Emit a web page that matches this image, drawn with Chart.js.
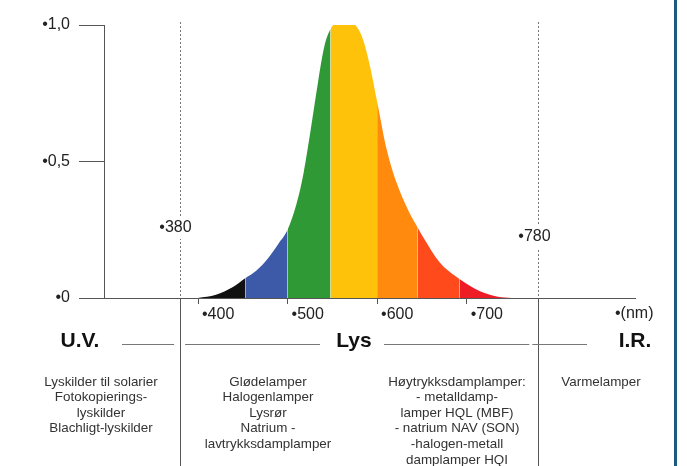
<!DOCTYPE html>
<html>
<head>
<meta charset="utf-8">
<script src="https://cdn.jsdelivr.net/npm/chart.js@4"></script>
<style>
html, body { margin: 0; padding: 0; background: #fff; }
#wrap { width: 687px; height: 466px; position: relative; }
</style>
</head>
<body>
<div id="wrap"><canvas id="spectrum"></canvas></div>
<script>
// relative eye sensitivity
var wavelengths = [400, 420, 439, 453, 465, 478, 490, 500, 510, 518, 526, 534, 541, 548, 556, 570, 578, 585, 592, 600, 611, 622, 635, 645, 651, 670, 692, 715, 735, 750];
var sensitivity = [0, 0.012, 0.04, 0.073, 0.10, 0.145, 0.20, 0.25, 0.345, 0.46, 0.62, 0.79, 0.92, 0.985, 1.01, 1.01, 0.99, 0.94, 0.85, 0.72, 0.54, 0.42, 0.32, 0.26, 0.225, 0.13, 0.07, 0.025, 0.005, 0];

var bandEdges = [400, 453, 500, 548, 600, 645, 692, 750];
var bandColors = ['#111111', '#3d5aa8', '#2f9a35', '#ffc20a', '#ff8a0d', '#ff4b1c', '#ee1c25'];

var xTicks = [400, 500, 600, 700];
var yTicks = [0, 0.5, 1];
var yTickLabels = ['•0', '•0,5', '•1,0'];
var limits = [380, 780];

var regionNames = ['U.V.', 'Lys', 'I.R.'];
var lampGroups = [
    ['Lyskilder til solarier', 'Fotokopierings-', 'lyskilder', 'Blachligt-lyskilder'],
    ['Glødelamper', 'Halogenlamper', 'Lysrør', 'Natrium -', 'lavtrykksdamplamper'],
    ['Høytrykksdamplamper:', '- metalldamp-', 'lamper HQL (MBF)', '- natrium NAV (SON)', '-halogen-metall', 'damplamper HQI'],
    ['Varmelamper']
];

var FONT = '"Liberation Sans", Arial, sans-serif';
Chart.defaults.font.family = FONT;

function bandColor(nm) {
    for (var b = 0; b < bandColors.length; b++) {
        if (nm >= bandEdges[b] && nm < bandEdges[b + 1]) {
            return bandColors[b];
        }
    }
    return bandColors[bandColors.length - 1];
}

var points = [];
for (var i = 0; i < wavelengths.length; i++) {
    points.push({x: wavelengths[i], y: sensitivity[i]});
}

function line(ctx, x1, y1, x2, y2) {
    ctx.beginPath();
    ctx.moveTo(x1, y1);
    ctx.lineTo(x2, y2);
    ctx.stroke();
}

var decor = {
    id: 'decor',
    afterDraw: function (chart) {
        var ctx = chart.ctx;
        var xs = chart.scales.x;
        var ys = chart.scales.y;
        var top = ys.getPixelForValue(1) - 3;
        var base = ys.getPixelForValue(0);
        ctx.save();

        // 380 / 780 limits
        var labelY = [228, 237];
        var labelShift = [-5, -4];
        limits.forEach(function (nm, k) {
            var px = Math.round(xs.getPixelForValue(nm)) + 0.5;
            ctx.strokeStyle = '#777';
            ctx.lineWidth = 1;
            ctx.setLineDash([2, 2]);
            line(ctx, px, top, px, base);
            ctx.setLineDash([]);
            ctx.strokeStyle = '#555';
            line(ctx, px, base, px, chart.height);

            ctx.font = '16px ' + FONT;
            var label = '•' + nm;
            var w = ctx.measureText(label).width;
            var cx = px + labelShift[k];
            ctx.fillStyle = '#fff';
            ctx.fillRect(cx - w / 2 - 2, labelY[k] - 11, w + 4, 22);
            ctx.fillStyle = '#222';
            ctx.textAlign = 'center';
            ctx.textBaseline = 'middle';
            ctx.fillText(label, cx, labelY[k]);
        });

        // unit
        ctx.font = '16px ' + FONT;
        ctx.textAlign = 'left';
        ctx.textBaseline = 'middle';
        ctx.fillStyle = '#222';
        ctx.fillText('•(nm)', chart.chartArea.right - 20, 314);

        // region headings
        var x380 = xs.getPixelForValue(limits[0]);
        var x780 = xs.getPixelForValue(limits[1]);
        var headX = [80, 354, 635];
        ctx.font = 'bold 21px ' + FONT;
        ctx.textAlign = 'center';
        ctx.fillStyle = '#111';
        regionNames.forEach(function (name, k) {
            ctx.fillText(name, headX[k], 341);
        });
        ctx.strokeStyle = '#777';
        ctx.lineWidth = 1;
        var rules = [[122, x380 - 6], [x380 + 5, 320], [384, x780 - 9], [x780 - 6, 587]];
        rules.forEach(function (r) {
            line(ctx, r[0], 344.5, r[1], 344.5);
        });

        // lamp lists
        var blockX = [101, 268, 457, 601];
        ctx.font = '13.4px ' + FONT;
        ctx.fillStyle = '#333';
        lampGroups.forEach(function (rows, k) {
            rows.forEach(function (txt, j) {
                ctx.fillText(txt, blockX[k], 382 + j * 15.6);
            });
        });

        // frame edge
        ctx.fillStyle = '#1d5a82';
        ctx.fillRect(674, 0, 3, chart.height);
        ctx.restore();
    }
};

new Chart(document.getElementById('spectrum').getContext('2d'), {
    type: 'line',
    data: {
        datasets: [{
            data: points,
            backgroundColor: bandColors[0],
            borderWidth: 0,
            pointRadius: 0,
            fill: 'origin',
            cubicInterpolationMode: 'monotone',
            clip: false,
            segment: {
                backgroundColor: function (ctx) {
                    return bandColor(wavelengths[ctx.p0DataIndex]);
                },
                borderColor: function (ctx) {
                    return bandColor(wavelengths[ctx.p0DataIndex]);
                }
            }
        }]
    },
    options: {
        responsive: true,
        maintainAspectRatio: false,
        animation: false,
        layout: {padding: {top: 25, right: 52, left: 0, bottom: 0}},
        plugins: {legend: {display: false}, tooltip: {enabled: false}},
        scales: {
            x: {
                type: 'linear',
                min: 295,
                max: 888,
                afterFit: function (scale) { scale.height = 168; },
                afterBuildTicks: function (scale) {
                    scale.ticks = xTicks.map(function (v) { return {value: v}; });
                },
                grid: {drawOnChartArea: false, tickLength: 6, color: '#555'},
                border: {color: '#555', width: 1},
                ticks: {
                    align: 'start',
                    labelOffset: 4,
                    padding: 1,
                    color: '#222',
                    font: {size: 16},
                    maxRotation: 0,
                    callback: function (v) { return '•' + v; }
                }
            },
            y: {
                min: 0,
                max: 1,
                afterFit: function (scale) { scale.width = 104; },
                afterBuildTicks: function (scale) {
                    scale.ticks = yTicks.map(function (v) { return {value: v}; });
                },
                grid: {drawOnChartArea: false, tickLength: 25, color: '#555'},
                border: {color: '#555', width: 1},
                ticks: {
                    padding: 9,
                    color: '#222',
                    font: {size: 16},
                    callback: function (v) { return yTickLabels[yTicks.indexOf(v)]; }
                }
            }
        }
    },
    plugins: [decor]
});
</script>
</body>
</html>
